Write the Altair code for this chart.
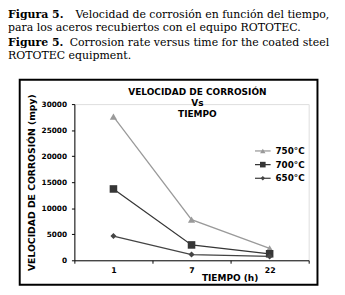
import altair as alt
import pandas as pd

# ---- data ----
tiempos = ["1", "7", "22"]
series = ["750°C", "700°C", "650°C"]
v750 = [27600, 7800, 2300]
v700 = [13700, 2950, 1250]
v650 = [4650, 1100, 750]
colors = ["#9a9a9a", "#363636", "#444444"]
marker_shapes = ["triangle-up", "square", "diamond"]
marker_sizes = [55, 60, 38]
y_ticks = [0, 5000, 10000, 15000, 20000, 25000, 30000]

chart_title = ["VELOCIDAD DE CORROSIÓN", "Vs", "TIEMPO"]
caption = [
    ("Figura 5.", "Velocidad de corrosión en función del tiempo,"),
    (None, "para los aceros recubiertos con el equipo ROTOTEC."),
    ("Figure 5.", "Corrosion rate versus time for the coated steel"),
    (None, "ROTOTEC equipment."),
]

rows = []
for s, vals in zip(series, [v750, v700, v650]):
    for t, v in zip(tiempos, vals):
        rows.append({"tiempo": t, "serie": s, "valor": v})
df = pd.DataFrame(rows)

# page -> plot coordinate helpers (plot origin at page (76,103))
def PX(x):
    return x - 76

def PY(y):
    return y - 103

W, H = 240, 160
SANS = "DejaVu Sans"
SERIF = "DejaVu Serif"
CAP_SIZE = 11.2

xenc = alt.X("tiempo:N", sort=tiempos,
             scale=alt.Scale(paddingInner=0, paddingOuter=0),
             axis=alt.Axis(title="TIEMPO (h)", labelAngle=0, tickBand="extent",
                           tickSize=3, labelPadding=4, labelFontSize=8,
                           labelFont=SANS, labelFontWeight="bold",
                           titleFont=SANS, titleFontWeight="bold", titleFontSize=9.2,
                           titleX=159, titleY=17.5, titleAlign="center",
                           titleBaseline="middle",
                           domainColor="black", tickColor="black",
                           labelColor="black", titleColor="black"))
yenc = alt.Y("valor:Q", scale=alt.Scale(domain=[0, 30000], nice=False),
             axis=alt.Axis(title="VELOCIDAD DE CORROSIÓN (mpy)", values=y_ticks,
                           format="d",
                           grid=False, tickSize=3, labelPadding=5, labelFontSize=7.5,
                           labelFont=SANS, labelFontWeight="bold",
                           titleFont=SANS, titleFontWeight="bold", titleFontSize=9.5,
                           titleX=PX(32), titleY=80, titleAngle=-90,
                           titleAlign="center", titleBaseline="middle",
                           domainColor="black", tickColor="black",
                           labelColor="black", titleColor="black"))
cscale = alt.Scale(domain=series, range=colors)

lines = alt.Chart(df).mark_line(strokeWidth=1.3).encode(
    x=xenc, y=yenc,
    color=alt.Color("serie:N", scale=cscale, legend=None),
)

point_layers = []
for s, c, shp, sz in zip(series, colors, marker_shapes, marker_sizes):
    point_layers.append(
        alt.Chart(df).transform_filter(alt.datum.serie == s).mark_point(
            filled=True, opacity=1, shape=shp, size=sz, color=c
        ).encode(x=xenc, y=yenc)
    )

frame = alt.Chart(pd.DataFrame({"k": [0]})).mark_rect(
    filled=False, stroke="black", strokeWidth=2
).encode(x=alt.value(PX(20)), x2=alt.value(PX(325)),
         y=alt.value(PY(78)), y2=alt.value(PY(288)))

layers = [frame, lines] + point_layers

# legend (drawn entry by entry, series names from the data lists)
for i, (s, c, shp, sz) in enumerate(zip(series, colors, marker_shapes, marker_sizes)):
    yy = PY(151 + 14 * i)
    one = pd.DataFrame({"serie": [s]})
    layers.append(alt.Chart(one).mark_rule(color=c, strokeWidth=1.3).encode(
        x=alt.value(PX(261)), x2=alt.value(PX(277)), y=alt.value(yy)))
    layers.append(alt.Chart(one).mark_point(
        filled=True, opacity=1, shape=shp, size=sz * 0.55, color=c
    ).encode(x=alt.value(PX(269)), y=alt.value(yy)))
    layers.append(alt.Chart(one).mark_text(
        font=SANS, fontWeight="bold", fontSize=9, color="black",
        align="left", baseline="middle"
    ).encode(x=alt.value(PX(282)), y=alt.value(yy), text="serie:N"))

# chart title lines
for i, line in enumerate(chart_title):
    layers.append(alt.Chart(pd.DataFrame({"t": [line]})).mark_text(
        font=SANS, fontWeight="bold", fontSize=9.2, color="black",
        align="center", baseline="middle"
    ).encode(x=alt.value(PX(202)), y=alt.value(PY(91 + 11 * i)), text="t:N"))

# caption lines
cap_y = [12, 25.5, 40, 54]
for (bold, normal), yy in zip(caption, cap_y):
    if bold:
        layers.append(alt.Chart(pd.DataFrame({"t": [bold]})).mark_text(
            font=SERIF, fontWeight="bold", fontSize=CAP_SIZE, color="black",
            align="left", baseline="middle"
        ).encode(x=alt.value(PX(8)), y=alt.value(PY(yy)), text="t:N"))
        layers.append(alt.Chart(pd.DataFrame({"t": [normal]})).mark_text(
            font=SERIF, fontSize=CAP_SIZE, color="black",
            align="right", baseline="middle"
        ).encode(x=alt.value(PX(337)), y=alt.value(PY(yy)), text="t:N"))
    else:
        layers.append(alt.Chart(pd.DataFrame({"t": [normal]})).mark_text(
            font=SERIF, fontSize=CAP_SIZE, color="black",
            align="left", baseline="middle"
        ).encode(x=alt.value(PX(8)), y=alt.value(PY(yy)), text="t:N"))

chart = alt.layer(*layers).properties(
    width=W, height=H,
    padding={"left": 68, "top": 95, "right": 29, "bottom": 27},
    autosize=alt.AutoSizeParams(type="none"),
).configure_view(stroke=None).configure(background="white")

chart.save("out.html", embed_options={"renderer": "svg", "actions": False})
